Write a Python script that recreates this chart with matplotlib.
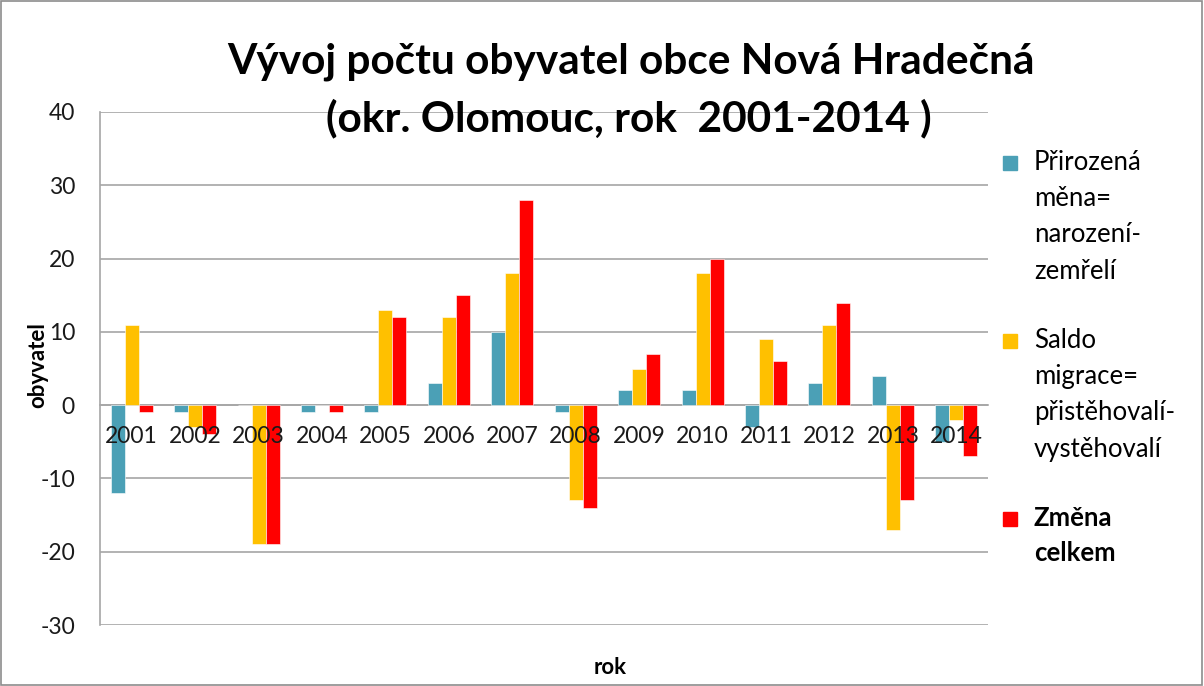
import matplotlib
matplotlib.use("Agg")
import matplotlib.pyplot as plt
import numpy as np
from matplotlib.patches import Rectangle

plt.rcParams['font.family'] = ['Lato', 'DejaVu Sans']
plt.rcParams['axes.unicode_minus'] = False

# data
roky = ['2001', '2002', '2003', '2004', '2005', '2006', '2007',
        '2008', '2009', '2010', '2011', '2012', '2013', '2014']
prirozena = [-12, -1, 0, -1, -1, 3, 10, -1, 2, 2, -3, 3, 4, -5]
migrace = [11, -3, -19, 0, 13, 12, 18, -13, 5, 18, 9, 11, -17, -2]
zmena = [-1, -4, -19, -1, 12, 15, 28, -14, 7, 20, 6, 14, -13, -7]

nazvy = ['Přirozená\nměna=\nnarození-\nzemřelí',
         'Saldo\nmigrace=\npřistěhovalí-\nvystěhovalí',
         'Změna\ncelkem']
barvy = ['#4BA0B6', '#FFC000', '#FF0000']

fig = plt.figure(figsize=(12.04, 6.86), dpi=100)
ax = fig.add_axes([100 / 1204, 61 / 686, 888 / 1204, 513 / 686])

x = np.arange(len(roky))
w = 0.22
for i, (vals, c) in enumerate(zip([prirozena, migrace, zmena], barvy)):
    ax.bar(x + (i - 1) * w, vals, width=w, color=c, edgecolor='white',
           linewidth=0.4, zorder=3)

ax.set_xlim(-0.5, len(roky) - 0.5)
ax.set_ylim(-30, 40)
ax.set_yticks(range(-30, 41, 10))
ax.yaxis.grid(True, color='#A6A6A6', linewidth=1.2, zorder=0)
ax.set_axisbelow(True)

# popisky let pres sloupce (jako v Excelu)
ax.set_xticks([])
for xi, r in zip(x, roky):
    ax.annotate(r, (xi, 0), xytext=(0, -22.5), textcoords='offset points',
                ha='center', va='center', fontsize=16.5, color='#1a1a1a',
                zorder=5)

ax.spines['bottom'].set_position(('data', 0))
ax.spines['bottom'].set_color('#A6A6A6')
ax.spines['bottom'].set_linewidth(1.2)
ax.spines['left'].set_color('#A6A6A6')
ax.spines['left'].set_linewidth(1.2)
ax.spines['top'].set_visible(False)
ax.spines['right'].set_visible(False)
ax.tick_params(axis='y', length=0, pad=18, labelsize=16.5, labelcolor='#1a1a1a')

fig.text(38 / 1204, 1 - 365 / 686, 'obyvatel', rotation=90, fontsize=16,
         fontweight='bold', ha='center', va='center')
fig.text(610 / 1204, 1 - 668 / 686, 'rok', fontsize=16, fontweight='bold',
         ha='center', va='center')

fig.text(631 / 1204, 1 - 62 / 686, 'Vývoj počtu obyvatel obce Nová Hradečná',
         fontsize=30.5, fontweight='bold', ha='center', va='center')
fig.text(629 / 1204, 1 - 118 / 686, '(okr. Olomouc, rok  2001-2014 )',
         fontsize=30.5, fontweight='bold', ha='center', va='center')

# legenda
leg_y = [162, 340, 518]
for nazev, c, ly in zip(nazvy, barvy, leg_y):
    fig.patches.append(Rectangle((1003 / 1204, 1 - (ly + 8) / 686), 14 / 1204, 14 / 686,
                                 transform=fig.transFigure, color=c))
    fig.text(1034 / 1204, 1 - (ly - 12) / 686, nazev, fontsize=18.5, va='top',
             ha='left', linespacing=1.56,
             fontweight='bold' if nazev.startswith('Změna') else 'normal')

fig.patches.append(Rectangle((0.001, 0.001), 0.997, 0.997, transform=fig.transFigure,
                             fill=False, edgecolor='#8c8c8c', linewidth=1.2))

fig.savefig('out.png', dpi=100)
